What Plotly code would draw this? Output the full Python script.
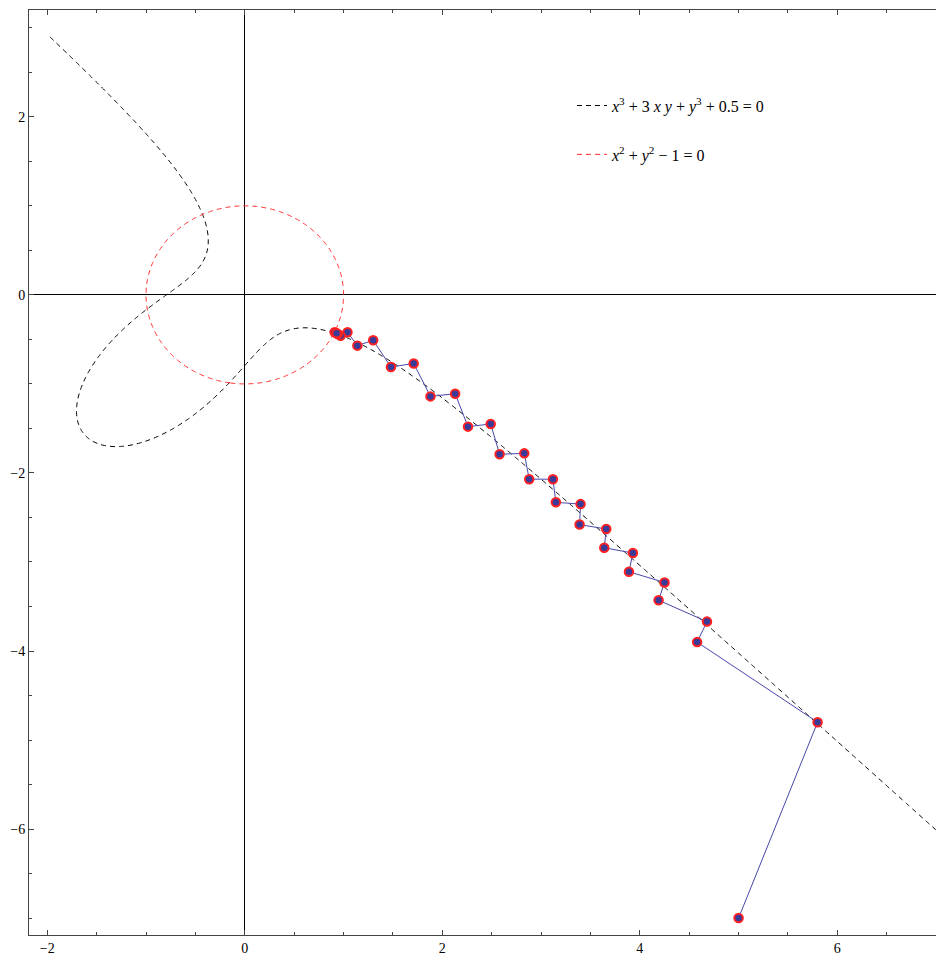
import numpy as np
import plotly.graph_objects as go

# Iteration points
iter_x = [5.00, 5.80, 4.58, 4.68, 4.19, 4.25, 3.89, 3.93, 3.64, 3.66, 3.39, 3.40,
          3.15, 3.12, 2.88, 2.83, 2.58, 2.49, 2.26, 2.13, 1.88, 1.71, 1.48, 1.30,
          1.14, 1.04, 0.97, 0.91, 0.94, 0.93]
iter_y = [-7.00, -4.80, -3.90, -3.67, -3.43, -3.23, -3.11, -2.90, -2.84, -2.63, -2.58, -2.35,
          -2.33, -2.07, -2.07, -1.78, -1.79, -1.45, -1.48, -1.11, -1.14, -0.77, -0.81, -0.51,
          -0.57, -0.42, -0.46, -0.42, -0.44, -0.43]

# Implicit curves shown in the legend
cubic_coef = dict(a3=1.0, axy=3.0, b3=1.0, c=0.5)   # x^3 + 3xy + y^3 + 0.5
circle_r = 1.0                                       # x^2 + y^2 - 1
curve_xdomain = [-2.0, 7.0]
curve_ydomain = [-7.2, 3.2]

legend_cubic = "<i>x</i><sup>3</sup> + 3 <i>x</i> <i>y</i> + <i>y</i><sup>3</sup> + 0.5 = 0"
legend_circle = "<i>x</i><sup>2</sup> + <i>y</i><sup>2</sup> − 1 = 0"

x_ticks = [-2, 0, 2, 4, 6]
y_ticks = [-6, -4, -2, 0, 2]

# grids for contour traces
gx = np.linspace(curve_xdomain[0], curve_xdomain[1], 420)
gy = np.linspace(curve_ydomain[0], curve_ydomain[1], 470)
GX, GY = np.meshgrid(gx, gy)
Zc = cubic_coef["a3"] * GX**3 + cubic_coef["axy"] * GX * GY + cubic_coef["b3"] * GY**3 + cubic_coef["c"]
Zc = np.round(Zc, 3)

cx = np.linspace(-1.1, 1.1, 160)
cy = np.linspace(-1.1, 1.1, 160)
CX, CY = np.meshgrid(cx, cy)
Zr = np.round(CX**2 + CY**2 - circle_r**2, 4)

SERIF = "Liberation Serif, Times New Roman, serif"
DASH = "5px,4px"
fig = go.Figure()

fig.add_trace(go.Contour(x=gx, y=gy, z=Zc, showscale=False, hoverinfo="skip",
                         contours=dict(start=0, end=0, size=1, coloring="none"),
                         line=dict(color="black", width=1, dash=DASH, smoothing=1.0),
                         showlegend=False))
fig.add_trace(go.Contour(x=cx, y=cy, z=Zr, showscale=False, hoverinfo="skip",
                         contours=dict(start=0, end=0, size=1, coloring="none"),
                         line=dict(color="#ff2a2a", width=1, dash=DASH, smoothing=1.0),
                         showlegend=False))

fig.add_trace(go.Scatter(x=iter_x, y=iter_y, mode="lines+markers",
                         line=dict(color="#4848a8", width=1),
                         marker=dict(size=8.5, color="#3a3a98", line=dict(color="#ff2020", width=2)),
                         showlegend=False))

# legend entries
fig.add_trace(go.Scatter(x=[None], y=[None], mode="lines", name=legend_cubic, legendgroup="a",
                         line=dict(color="black", width=1, dash=DASH)))
fig.add_trace(go.Scatter(x=[None], y=[None], mode="lines", name=legend_circle, legendgroup="b",
                         line=dict(color="#ff2a2a", width=1, dash=DASH)))

axis_common = dict(showgrid=False, zeroline=True, zerolinecolor="black", zerolinewidth=1,
                   showline=True, linecolor="#444", linewidth=1, automargin=False,
                   ticks="inside", ticklen=5, tickcolor="#444", tickwidth=1,
                   tickfont=dict(family=SERIF, size=14, color="black"))

fig.update_xaxes(range=[-2.185, 7.08], tickvals=x_ticks, mirror="ticks",
                 minor=dict(dtick=0.5, tick0=0, ticks="inside", ticklen=3, tickcolor="#444"),
                 **axis_common)
fig.update_yaxes(range=[-7.19, 3.2], tickvals=y_ticks, mirror=False,
                 minor=dict(dtick=0.5, tick0=0, ticks="inside", ticklen=3, tickcolor="#444"),
                 **axis_common)

# the page body adds an 8px offset, so the figure is sized to fit the window
fig.update_layout(width=936, height=946, margin=dict(l=21, r=0, t=2, b=19),
                  plot_bgcolor="white", paper_bgcolor="white",
                  legend=dict(x=0.5934, y=0.915, xanchor="left", yanchor="top",
                              bgcolor="rgba(0,0,0,0)", tracegroupgap=25,
                              font=dict(family=SERIF, size=16, color="black")),
                  showlegend=True)

fig.write_html("out.html")
